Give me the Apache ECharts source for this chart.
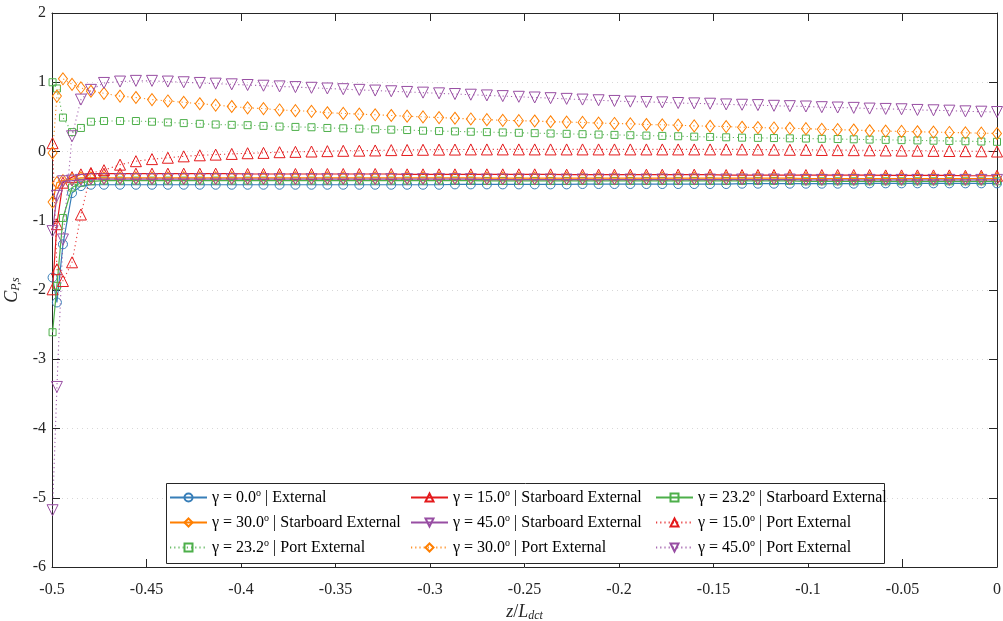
<!DOCTYPE html>
<html>
<head>
<meta charset="utf-8">
<script src="https://cdn.jsdelivr.net/npm/echarts@6/dist/echarts.min.js"></script>
<style>html,body{margin:0;padding:0;background:#fff;}#c{width:1003px;height:621px;}</style>
</head>
<body>
<div id="c"></div>
<script>
const xVals = [-0.4997,-0.4974,-0.4942,-0.4894,-0.4847,-0.4794,-0.4725,-0.4640,-0.4556,-0.4471,
-0.4387,-0.4303,-0.4218,-0.4134,-0.4049,-0.3965,-0.3881,-0.3796,-0.3712,-0.3627,
-0.3543,-0.3459,-0.3374,-0.3290,-0.3205,-0.3121,-0.3037,-0.2952,-0.2868,-0.2784,
-0.2699,-0.2615,-0.2530,-0.2446,-0.2362,-0.2277,-0.2193,-0.2108,-0.2024,-0.1940,
-0.1855,-0.1771,-0.1687,-0.1602,-0.1518,-0.1433,-0.1349,-0.1265,-0.1180,-0.1096,
-0.1011,-0.0927,-0.0843,-0.0758,-0.0674,-0.0589,-0.0505,-0.0421,-0.0336,-0.0252,
-0.0167,-0.0083,0.0000];

const ext00 = [-1.82,-2.18,-1.34,-0.60,-0.50,-0.48,-0.48,-0.48,-0.48,-0.48,
-0.48,-0.48,-0.48,-0.48,-0.48,-0.48,-0.48,-0.48,-0.48,-0.48,
-0.48,-0.48,-0.48,-0.48,-0.48,-0.48,-0.48,-0.48,-0.475,-0.475,
-0.475,-0.475,-0.475,-0.475,-0.475,-0.475,-0.47,-0.47,-0.47,-0.47,
-0.47,-0.47,-0.47,-0.47,-0.47,-0.47,-0.465,-0.465,-0.465,-0.465,
-0.465,-0.465,-0.465,-0.465,-0.46,-0.46,-0.46,-0.46,-0.46,-0.46,
-0.46,-0.46,-0.46];
const stb15 = [-1.99,-1.05,-0.45,-0.37,-0.33,-0.32,-0.32,-0.32,-0.32,-0.32,
-0.32,-0.32,-0.32,-0.32,-0.32,-0.325,-0.325,-0.325,-0.325,-0.325,
-0.325,-0.325,-0.325,-0.325,-0.325,-0.33,-0.33,-0.33,-0.33,-0.33,
-0.33,-0.33,-0.33,-0.33,-0.33,-0.335,-0.335,-0.335,-0.335,-0.335,
-0.335,-0.335,-0.335,-0.335,-0.335,-0.34,-0.34,-0.34,-0.34,-0.34,
-0.34,-0.34,-0.34,-0.34,-0.34,-0.345,-0.345,-0.345,-0.345,-0.345,
-0.35,-0.35,-0.35];
const stb232 = [-2.61,-1.94,-0.96,-0.52,-0.45,-0.43,-0.42,-0.42,-0.42,-0.42,
-0.42,-0.42,-0.42,-0.42,-0.42,-0.42,-0.42,-0.42,-0.42,-0.42,
-0.42,-0.42,-0.42,-0.42,-0.42,-0.42,-0.42,-0.42,-0.42,-0.42,
-0.425,-0.425,-0.425,-0.425,-0.425,-0.425,-0.425,-0.425,-0.425,-0.425,
-0.425,-0.425,-0.425,-0.425,-0.425,-0.425,-0.425,-0.425,-0.425,-0.425,
-0.43,-0.43,-0.43,-0.43,-0.43,-0.43,-0.43,-0.43,-0.43,-0.43,
-0.43,-0.43,-0.43];
const stb30 = [-0.73,-0.45,-0.42,-0.40,-0.38,-0.38,-0.38,-0.38,-0.38,-0.38,
-0.38,-0.38,-0.38,-0.38,-0.38,-0.38,-0.38,-0.38,-0.38,-0.38,
-0.38,-0.38,-0.38,-0.38,-0.38,-0.38,-0.38,-0.38,-0.38,-0.38,
-0.385,-0.385,-0.385,-0.385,-0.385,-0.385,-0.385,-0.385,-0.385,-0.385,
-0.385,-0.385,-0.385,-0.385,-0.385,-0.385,-0.385,-0.385,-0.385,-0.385,
-0.39,-0.39,-0.39,-0.39,-0.39,-0.39,-0.39,-0.39,-0.39,-0.39,
-0.39,-0.39,-0.39];
const stb45 = [-1.15,-0.64,-0.43,-0.42,-0.41,-0.40,-0.40,-0.40,-0.40,-0.40,
-0.40,-0.40,-0.40,-0.40,-0.40,-0.40,-0.40,-0.40,-0.40,-0.40,
-0.40,-0.40,-0.40,-0.40,-0.40,-0.40,-0.40,-0.40,-0.40,-0.40,
-0.405,-0.405,-0.405,-0.405,-0.405,-0.405,-0.405,-0.405,-0.405,-0.405,
-0.405,-0.405,-0.405,-0.405,-0.405,-0.405,-0.405,-0.405,-0.405,-0.405,
-0.41,-0.41,-0.41,-0.41,-0.41,-0.41,-0.41,-0.41,-0.41,-0.41,
-0.41,-0.41,-0.41];
const port15 = [0.12,-1.70,-1.87,-1.60,-0.91,-0.31,-0.27,-0.19,-0.14,-0.11,
-0.09,-0.07,-0.055,-0.045,-0.035,-0.025,-0.02,-0.01,-0.005,0.0,
0.005,0.01,0.012,0.015,0.02,0.022,0.025,0.027,0.028,0.03,
0.03,0.03,0.03,0.03,0.03,0.03,0.03,0.03,0.03,0.03,
0.03,0.03,0.03,0.03,0.03,0.03,0.03,0.028,0.026,0.025,
0.024,0.022,0.02,0.019,0.017,0.015,0.013,0.011,0.009,0.007,
0.005,0.003,0.0];
const port232 = [1.00,0.91,0.49,0.28,0.34,0.43,0.44,0.44,0.44,0.43,
0.42,0.41,0.40,0.39,0.385,0.38,0.37,0.36,0.355,0.35,
0.34,0.335,0.33,0.32,0.315,0.31,0.30,0.295,0.29,0.285,
0.28,0.275,0.27,0.265,0.26,0.255,0.25,0.245,0.24,0.235,
0.23,0.225,0.22,0.215,0.21,0.205,0.20,0.197,0.194,0.19,
0.187,0.183,0.18,0.176,0.172,0.168,0.164,0.16,0.156,0.152,
0.148,0.144,0.14];
const port30 = [-0.02,0.80,1.05,0.97,0.92,0.87,0.84,0.80,0.78,0.75,
0.73,0.71,0.69,0.67,0.65,0.63,0.62,0.60,0.59,0.58,
0.56,0.55,0.54,0.53,0.52,0.51,0.50,0.49,0.48,0.47,
0.46,0.45,0.445,0.44,0.43,0.425,0.42,0.41,0.405,0.40,
0.39,0.385,0.38,0.37,0.365,0.36,0.35,0.345,0.34,0.335,
0.33,0.32,0.315,0.31,0.30,0.295,0.29,0.285,0.28,0.275,
0.27,0.265,0.26];
const port45 = [-5.18,-3.40,-1.27,0.22,0.75,0.89,0.99,1.01,1.02,1.02,
1.01,1.00,0.99,0.98,0.97,0.96,0.95,0.94,0.93,0.92,
0.91,0.90,0.89,0.88,0.87,0.86,0.85,0.84,0.83,0.82,
0.81,0.80,0.79,0.78,0.77,0.76,0.75,0.74,0.73,0.72,
0.715,0.71,0.70,0.695,0.69,0.68,0.675,0.67,0.66,0.655,
0.65,0.64,0.635,0.63,0.62,0.615,0.61,0.60,0.595,0.59,
0.58,0.575,0.57];

const seriesNames = [
  'γ = 0.0° | External',
  'γ = 15.0° | Starboard External',
  'γ = 23.2° | Starboard External',
  'γ = 30.0° | Starboard External',
  'γ = 45.0° | Starboard External',
  'γ = 15.0° | Port External',
  'γ = 23.2° | Port External',
  'γ = 30.0° | Port External',
  'γ = 45.0° | Port External'
];
const seriesValues = [ext00, stb15, stb232, stb30, stb45, port15, port232, port30, port45];

const BLUE='#377eb8', RED='#e41a1c', GREEN='#4daf4a', ORANGE='#ff7f00', PURPLE='#984ea3';
const styles = [
  {c:BLUE, sym:'circle', size:9, rot:0, dot:false},
  {c:RED, sym:'triangle', size:11, rot:0, dot:false},
  {c:GREEN, sym:'rect', size:7, rot:0, dot:false},
  {c:ORANGE, sym:'diamond', size:[9,12], rot:0, dot:false},
  {c:PURPLE, sym:'triangle', size:11, rot:180, dot:false},
  {c:RED, sym:'triangle', size:11, rot:0, dot:true},
  {c:GREEN, sym:'rect', size:7, rot:0, dot:true},
  {c:ORANGE, sym:'diamond', size:[9,12], rot:0, dot:true},
  {c:PURPLE, sym:'triangle', size:11, rot:180, dot:true}
];

const FONT = 'Liberation Serif';
const series = seriesNames.map((n, i) => {
  const s = styles[i];
  return {
    name: n,
    type: 'line',
    xAxisIndex: 0, yAxisIndex: 0,
    data: xVals.map((x, k) => [x, seriesValues[i][k]]),
    symbol: s.sym,
    symbolSize: s.size,
    symbolRotate: s.rot,
    showAllSymbol: true,
    animation: false,
    lineStyle: {color: s.c, width: s.dot ? 1.1 : 1.2, type: s.dot ? [1.2, 3] : 'solid', opacity: s.dot ? 0.85 : 1},
    itemStyle: {color: 'rgba(0,0,0,0)', borderColor: s.c, borderWidth: 1},
    emphasis: {disabled: true},
    z: 2 + i * 0.01
  };
});

function legendLabel(name) {
  const m = name.match(/^γ = ([\d.]+)° \| (.*)$/);
  return '{t|γ = ' + m[1] + '}{sup|o}{t| | ' + m[2] + '}';
}

const legendPos = [
  [169, 497], [410, 497], [655, 497],
  [169, 522], [410, 522], [655, 522],
  [169, 547], [410, 547], [655, 547]
];
const legends = seriesNames.map((n, i) => ({
  show: true,
  data: [n],
  left: legendPos[i][0],
  top: legendPos[i][1] - 9,
  padding: 0,
  itemWidth: 37,
  itemHeight: 10,
  itemGap: 0,
  selectedMode: false,
  z: 10,
  formatter: legendLabel,
  textStyle: {
    fontFamily: FONT, fontSize: 16, color: '#000',
    rich: {
      t: {fontFamily: FONT, fontSize: 16, color: '#000'},
      sup: {fontFamily: FONT, fontSize: 10, color: '#000', padding: [0, 0, 9, 0]}
    }
  }
}));

const axisCommon = {
  axisLine: {show: true, onZero: false, lineStyle: {color: '#262626', width: 1}},
  axisTick: {show: true, inside: true, length: 8, lineStyle: {color: '#262626'}},
};

const chart = echarts.init(document.getElementById('c'), null, {renderer: 'canvas'});
chart.setOption({
  backgroundColor: '#fff',
  animation: false,
  grid: {left: 52, right: 6, top: 13, bottom: 54, containLabel: false, outerBoundsMode: 'none'},
  legend: legends,
  xAxis: [{
    type: 'value', min: -0.5, max: 0, interval: 0.05, position: 'bottom',
    ...axisCommon,
    axisLabel: {fontFamily: FONT, fontSize: 16, color: '#262626', margin: 15},
    splitLine: {show: false},
    name: '{i|z}{n|/}{i|L}{sub|dct}',
    nameLocation: 'middle', nameGap: 31,
    nameTextStyle: {
      fontFamily: FONT, fontSize: 18, color: '#262626',
      rich: {
        i: {fontFamily: FONT, fontStyle: 'italic', fontSize: 18, color: '#262626'},
        n: {fontFamily: FONT, fontSize: 18, color: '#262626'},
        sub: {fontFamily: FONT, fontStyle: 'italic', fontSize: 12, color: '#262626', padding: [8, 0, 0, 0]}
      }
    }
  }, {
    type: 'value', min: -0.5, max: 0, interval: 0.05, position: 'top',
    ...axisCommon,
    axisLabel: {show: false},
    splitLine: {show: false}
  }],
  yAxis: [{
    type: 'value', min: -6, max: 2, interval: 1, position: 'left',
    ...axisCommon,
    axisLabel: {fontFamily: FONT, fontSize: 16, color: '#262626', margin: 6},
    splitLine: {show: true, lineStyle: {color: '#d8d8d8', type: [1, 4], width: 1}},
    name: '{i|C}{sub|P,s}',
    nameLocation: 'middle', nameGap: 19, nameRotate: 90,
    nameTextStyle: {
      fontFamily: FONT, fontSize: 18, color: '#262626',
      rich: {
        i: {fontFamily: FONT, fontStyle: 'italic', fontSize: 18, color: '#262626'},
        sub: {fontFamily: FONT, fontStyle: 'italic', fontSize: 12, color: '#262626', padding: [8, 0, 0, 0]}
      }
    }
  }, {
    type: 'value', min: -6, max: 2, interval: 1, position: 'right',
    ...axisCommon,
    axisLabel: {show: false},
    splitLine: {show: false}
  }],
  graphic: [{
    type: 'rect',
    shape: {x: 166.5, y: 483.5, width: 718, height: 80},
    style: {fill: '#fff', stroke: '#262626', lineWidth: 1},
    z: 5
  }],
  series: series
});
</script>
</body>
</html>
